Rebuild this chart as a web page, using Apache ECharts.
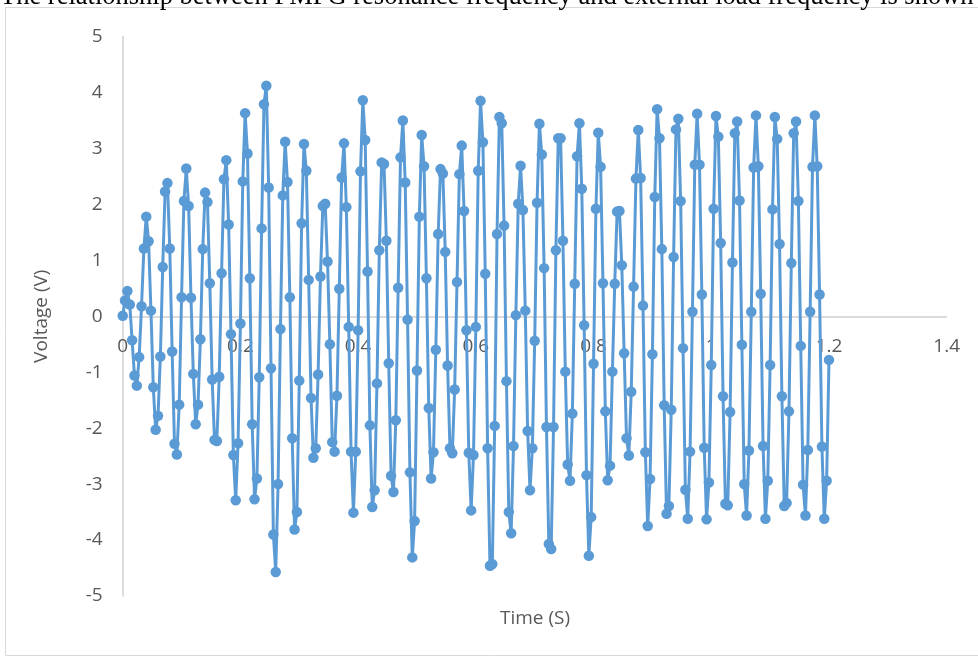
<!DOCTYPE html>
<html>
<head>
<meta charset="utf-8">
<script src="https://cdn.jsdelivr.net/npm/echarts@6/dist/echarts.min.js"></script>
<style>
html,body{margin:0;padding:0;background:#fff;}
#chart{width:978px;height:660px;}
</style>
</head>
<body>
<div id="chart"></div>
<script>
// Sampling step of the time axis (s)
const sampleStep = 0.004;
const xTicks = [0, 0.2, 0.4, 0.6, 0.8, 1, 1.2, 1.4];
const yTicks = [-5, -4, -3, -2, -1, 0, 1, 2, 3, 4, 5];
const voltage = [
0.01,0.28,0.45,0.21,-0.43,-1.06,-1.24,-0.73,0.18,1.21,
1.78,1.34,0.10,-1.27,-2.03,-1.78,-0.72,0.88,2.23,2.38,
1.21,-0.63,-2.28,-2.47,-1.58,0.34,2.06,2.64,1.97,0.33,
-1.03,-1.93,-1.58,-0.41,1.20,2.21,2.04,0.59,-1.13,-2.21,
-2.23,-1.08,0.77,2.45,2.79,1.64,-0.32,-2.48,-3.29,-2.27,
-0.13,2.41,3.63,2.91,0.68,-1.93,-3.27,-2.90,-1.09,1.57,
3.79,4.12,2.30,-0.93,-3.90,-4.57,-3.00,-0.23,2.16,3.12,
2.40,0.34,-2.18,-3.81,-3.50,-1.15,1.66,3.08,2.60,0.65,
-1.46,-2.53,-2.36,-1.04,0.71,1.97,2.01,0.98,-0.50,-2.25,
-2.42,-1.42,0.49,2.48,3.09,1.95,-0.19,-2.42,-3.51,-2.42,
-0.25,2.59,3.86,3.15,0.80,-1.95,-3.41,-3.11,-1.20,1.18,
2.75,2.72,1.35,-0.84,-2.85,-3.14,-1.86,0.51,2.84,3.50,
2.39,-0.06,-2.79,-4.31,-3.66,-0.97,1.78,3.24,2.68,0.68,
-1.64,-2.90,-2.43,-0.60,1.47,2.63,2.55,1.15,-0.88,-2.36,
-2.45,-1.31,0.61,2.54,3.05,1.88,-0.25,-2.44,-3.47,-2.48,
-0.19,2.60,3.85,3.11,0.76,-2.36,-4.46,-4.43,-1.96,1.47,
3.56,3.45,1.62,-1.16,-3.50,-3.88,-2.32,0.02,2.01,2.69,
1.90,0.10,-2.05,-3.11,-2.36,-0.44,2.03,3.44,2.89,0.86,
-1.98,-4.07,-4.16,-1.98,1.18,3.18,3.18,1.35,-0.99,-2.65,
-2.94,-1.74,0.58,2.86,3.45,2.28,-0.16,-2.84,-4.28,-3.59,
-0.85,1.92,3.28,2.67,0.59,-1.70,-2.93,-2.67,-0.99,0.58,
1.87,1.88,0.91,-0.66,-2.18,-2.49,-1.35,0.53,2.46,3.33,
2.47,0.19,-2.43,-3.75,-2.91,-0.68,2.13,3.70,3.18,1.20,
-1.59,-3.53,-3.39,-1.67,1.06,3.34,3.53,2.06,-0.57,-3.10,
-3.62,-2.42,0.08,2.71,3.62,2.71,0.39,-2.35,-3.63,-2.97,
-0.87,1.92,3.58,3.21,1.31,-1.43,-3.35,-3.38,-1.71,0.96,
3.27,3.48,2.07,-0.51,-3.00,-3.56,-2.40,0.08,2.66,3.59,
2.68,0.40,-2.32,-3.62,-2.94,-0.87,1.91,3.56,3.17,1.29,
-1.43,-3.39,-3.34,-1.70,0.95,3.27,3.48,2.06,-0.53,-3.01,
-3.56,-2.39,0.08,2.67,3.59,2.68,0.39,-2.33,-3.62,-2.94,
-0.78
];
const seriesData = voltage.map((v, i) => [+(i * sampleStep).toFixed(3), v]);

const chart = echarts.init(document.getElementById('chart'), null, {renderer: 'canvas'});
const labelColor = '#595959';
const font = "'Open Sans', 'Liberation Sans', sans-serif";
const gridTop = 36.5, gridBottom = 64, H = 660;
const zeroOffset = -(H - gridTop - gridBottom) / 2;
chart.setOption({
  animation: false,
  backgroundColor: '#fff',
  graphic: [
    {type: 'rect', shape: {x: 5.5, y: 7.5, width: 990, height: 648}, style: {fill: 'none', stroke: '#d9d9d9', lineWidth: 1}, z: 0},
    {type: 'text', x: 0, y: 11, style: {text: 'The relationship between PMFG resonance frequency and external load frequency is shown in', font: "26.5px 'Liberation Serif', serif", fill: '#000', align: 'left', verticalAlign: 'bottom'}},
    {type: 'text', x: 535, y: 619, style: {text: 'Time (S)', font: "19px 'Open Sans', sans-serif", fill: labelColor, align: 'center', verticalAlign: 'middle'}}
  ],
  grid: {left: 122.7, right: 31.3, top: gridTop, bottom: gridBottom, containLabel: false},
  xAxis: {
    type: 'value', min: 0, max: 1.4, interval: 0.2,
    position: 'bottom', offset: zeroOffset,
    axisLine: {onZero: false, lineStyle: {color: '#d0d0d0', width: 1.5}},
    axisTick: {show: false},
    splitLine: {show: false},
    axisLabel: {color: labelColor, fontSize: 19, fontFamily: font, margin: 21,
      formatter: v => String(+v.toFixed(1)),
      customValues: xTicks}
  },
  yAxis: {
    type: 'value', min: -5, max: 5, interval: 1,
    name: 'Voltage (V)', nameLocation: 'middle', nameGap: 72, nameRotate: 90,
    nameTextStyle: {color: labelColor, fontSize: 19, fontFamily: font},
    axisLine: {show: true, onZero: false, lineStyle: {color: '#d0d0d0', width: 1.5}},
    axisTick: {show: false},
    splitLine: {show: false},
    axisLabel: {color: labelColor, fontSize: 19, fontFamily: font, margin: 20,
      customValues: yTicks}
  },
  series: [{
    type: 'line',
    data: seriesData,
    symbol: 'circle',
    symbolSize: 10.5,
    showAllSymbol: true,
    lineStyle: {color: '#5b9bd5', width: 3},
    itemStyle: {color: '#5b9bd5'},
    z: 3
  }]
});
</script>
</body>
</html>
